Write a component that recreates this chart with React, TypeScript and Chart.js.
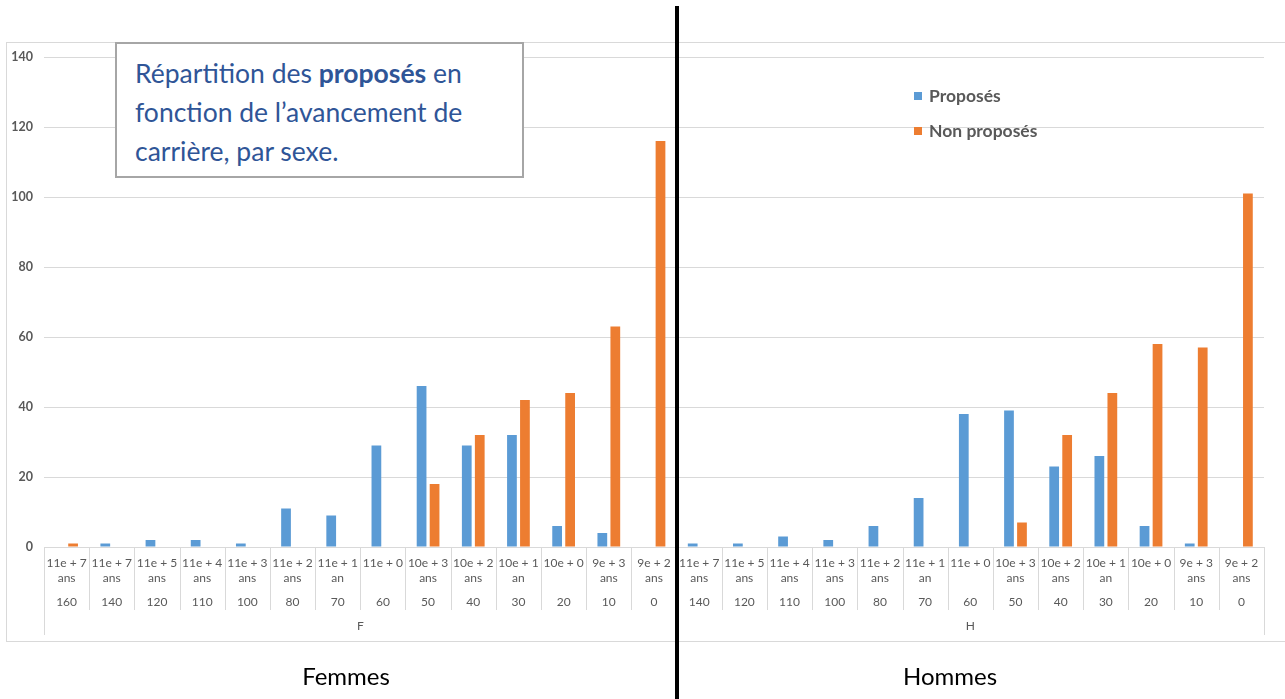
import React, { useEffect, useRef } from "react";
import { Chart, registerables } from "chart.js";

Chart.register(...registerables);

// ---- Data ----
const femmesEchelons: string[][] = [
  ["11e + 7", "ans"], ["11e + 7", "ans"], ["11e + 5", "ans"], ["11e + 4", "ans"],
  ["11e + 3", "ans"], ["11e + 2", "ans"], ["11e + 1", "an"], ["11e + 0", ""],
  ["10e + 3", "ans"], ["10e + 2", "ans"], ["10e + 1", "an"], ["10e + 0", ""],
  ["9e + 3", "ans"], ["9e + 2", "ans"],
];
const femmesPoints = ["160", "140", "120", "110", "100", "80", "70", "60", "50", "40", "30", "20", "10", "0"];
const femmesProposes = [0, 1, 2, 2, 1, 11, 9, 29, 46, 29, 32, 6, 4, 0];
const femmesNonProposes = [1, 0, 0, 0, 0, 0, 0, 0, 18, 32, 42, 44, 63, 116];

const hommesEchelons: string[][] = [
  ["11e + 7", "ans"], ["11e + 5", "ans"], ["11e + 4", "ans"], ["11e + 3", "ans"],
  ["11e + 2", "ans"], ["11e + 1", "an"], ["11e + 0", ""], ["10e + 3", "ans"],
  ["10e + 2", "ans"], ["10e + 1", "an"], ["10e + 0", ""], ["9e + 3", "ans"], ["9e + 2", "ans"],
];
const hommesPoints = ["140", "120", "110", "100", "80", "70", "60", "50", "40", "30", "20", "10", "0"];
const hommesProposes = [1, 1, 3, 2, 6, 14, 38, 39, 23, 26, 6, 1, 0];
const hommesNonProposes = [0, 0, 0, 0, 0, 0, 0, 7, 32, 44, 58, 57, 101];

const groupLabels = ["F", "H"];
const seriesNames = ["Proposés", "Non proposés"];
const seriesColors = ["#5B9BD5", "#ED7D31"];
const yMax = 140;
const yStep = 20;
const sexLabels = ["Femmes", "Hommes"];

const FONT = "Lato, 'Open Sans', sans-serif";

const allEchelons = [...femmesEchelons, ...hommesEchelons];
const allPoints = [...femmesPoints, ...hommesPoints];
const groupSizes = [femmesEchelons.length, hommesEchelons.length];

const multiAxisPlugin = {
  id: "multiAxis",
  beforeDraw(chart: any) {
    const ctx = chart.ctx;
    ctx.save();
    ctx.fillStyle = "#ffffff";
    ctx.fillRect(0, 0, chart.width, chart.height);
    ctx.strokeStyle = "#d9d9d9";
    ctx.lineWidth = 1;
    ctx.strokeRect(6.5, 42.5, chart.width + 20, 599);
    ctx.restore();
  },
  afterDraw(chart: any) {
    const ctx = chart.ctx;
    const xs = chart.scales.x;
    const area = chart.chartArea;
    const n = allEchelons.length;
    const w = xs.getPixelForValue(1) - xs.getPixelForValue(0);
    const boundary = (i: number) =>
      i < n ? xs.getPixelForValue(i) - w / 2 : xs.getPixelForValue(n - 1) + w / 2;
    const groupStarts: number[] = [0];
    groupSizes.forEach((s, k) => groupStarts.push(groupStarts[k] + s));
    const b = area.bottom;

    ctx.save();
    ctx.strokeStyle = "#d9d9d9";
    ctx.lineWidth = 1;
    for (let i = 0; i <= n; i++) {
      const bx = Math.round(boundary(i)) + 0.5;
      const isGroup = groupStarts.includes(i);
      ctx.beginPath();
      ctx.moveTo(bx, b);
      ctx.lineTo(bx, b + (isGroup ? 88 : 63));
      ctx.stroke();
    }

    ctx.fillStyle = "#595959";
    ctx.textAlign = "center";
    ctx.textBaseline = "middle";
    ctx.font = `12px ${FONT}`;
    for (let i = 0; i < n; i++) {
      const cx = xs.getPixelForValue(i);
      const [l1, l2] = allEchelons[i];
      ctx.fillText(l1, cx, b + 16);
      if (l2) ctx.fillText(l2, cx, b + 31);
      ctx.fillText(allPoints[i], cx, b + 55);
    }
    for (let g = 0; g < groupLabels.length; g++) {
      const gx = (boundary(groupStarts[g]) + boundary(groupStarts[g + 1])) / 2;
      ctx.fillText(groupLabels[g], gx, b + 79);
    }
    ctx.restore();
  },
};

export default function App() {
  const canvasRef = useRef<HTMLCanvasElement | null>(null);

  useEffect(() => {
    if (!canvasRef.current) return;
    const chart = new Chart(canvasRef.current, {
      type: "bar",
      data: {
        labels: allEchelons.map((e, i) => `${e.join(" ")} ${allPoints[i]}`),
        datasets: [
          {
            label: seriesNames[0],
            data: [...femmesProposes, ...hommesProposes],
            backgroundColor: seriesColors[0],
            barPercentage: 0.75,
            categoryPercentage: 0.575,
          },
          {
            label: seriesNames[1],
            data: [...femmesNonProposes, ...hommesNonProposes],
            backgroundColor: seriesColors[1],
            barPercentage: 0.75,
            categoryPercentage: 0.575,
          },
        ],
      },
      options: {
        animation: false,
        responsive: false,
        devicePixelRatio: 1,
        layout: { padding: { top: 57, bottom: 144, left: 0, right: 21 } },
        plugins: {
          legend: { display: false },
          tooltip: { enabled: false },
          title: { display: false },
        },
        scales: {
          x: {
            display: true,
            grid: { display: false },
            border: { display: false },
            ticks: { display: false },
          },
          y: {
            min: 0,
            max: yMax,
            ticks: {
              stepSize: yStep,
              padding: 11,
              color: "#595959",
              font: { family: FONT, size: 12.5, weight: "bold" },
            },
            grid: { color: "#d9d9d9", lineWidth: 1, drawTicks: false },
            border: { display: false },
            afterFit: (scale: any) => {
              scale.width = 44;
            },
          },
        },
      },
      plugins: [multiAxisPlugin],
    });
    return () => chart.destroy();
  }, []);

  return (
    <div style={{ position: "absolute", left: 0, top: 0, width: 1285, height: 699, background: "#fff", overflow: "hidden", fontFamily: FONT }}>
      <canvas ref={canvasRef} width={1285} height={699} style={{ position: "absolute", left: 0, top: 0, width: 1285, height: 699 }} />
      <div
        style={{
          position: "absolute", left: 115, top: 42, width: 409, height: 136,
          boxSizing: "border-box", border: "2px solid #a6a6a6", background: "#fff",
          paddingLeft: 18, paddingTop: 10, color: "#2F5597", fontSize: 26.5, lineHeight: "39px",
          whiteSpace: "nowrap",
        }}
      >
        Répartition des <b>proposés</b> en<br />fonction de l’avancement de<br />carrière, par sexe.
      </div>
      {seriesNames.map((name, i) => (
        <div key={name} style={{ position: "absolute", left: 914, top: 85 + i * 35, height: 22, display: "flex", alignItems: "center" }}>
          <div style={{ width: 8, height: 8, background: seriesColors[i], marginRight: 7 }} />
          <span style={{ fontSize: 17.5, fontWeight: "bold", color: "#595959", lineHeight: "22px" }}>{name}</span>
        </div>
      ))}
      <div style={{ position: "absolute", left: 675, top: 6, width: 4, height: 693, background: "#000" }} />
      {sexLabels.map((s, i) => (
        <div key={s} style={{ position: "absolute", left: i === 0 ? 246 : 850, width: 200, top: 661, textAlign: "center", fontSize: 24, lineHeight: "30px", color: "#000" }}>
          {s}
        </div>
      ))}
    </div>
  );
}
